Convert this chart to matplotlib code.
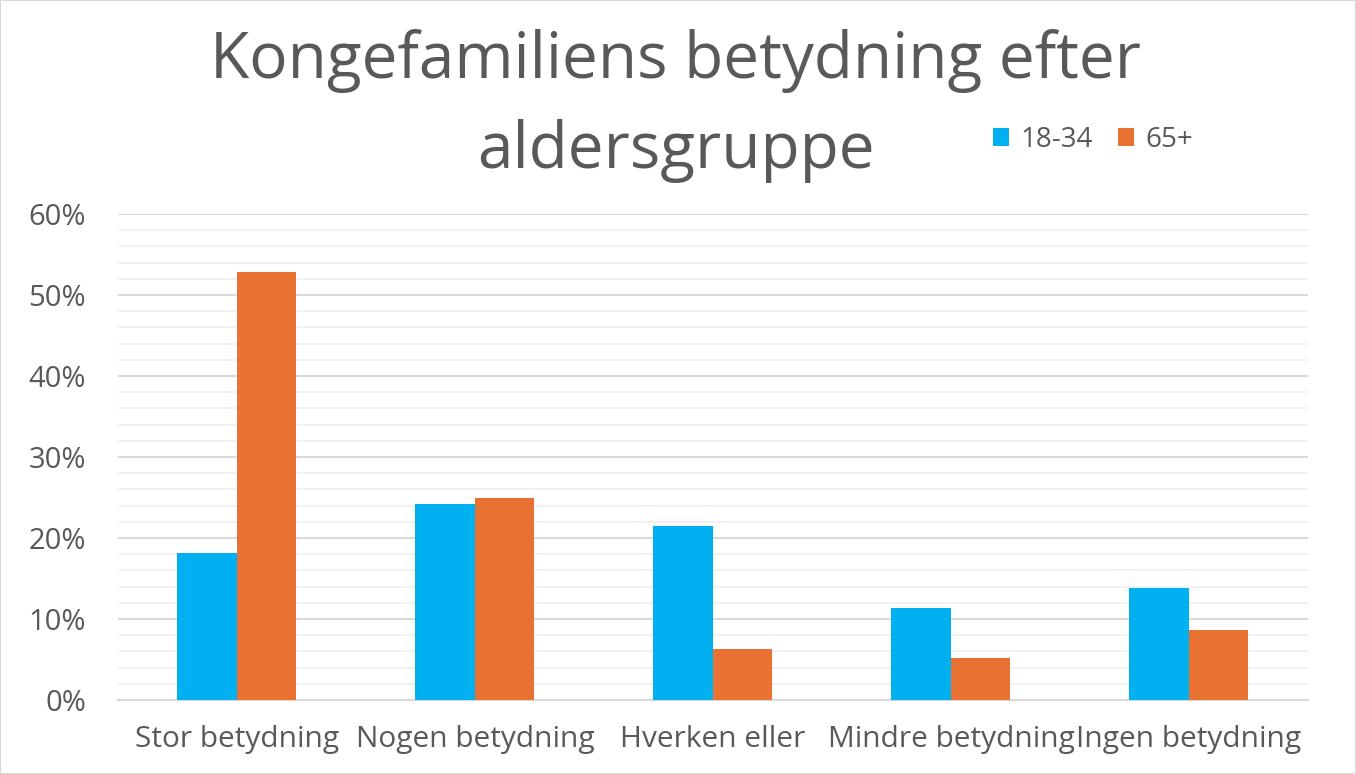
import matplotlib
matplotlib.use("Agg")
import matplotlib.pyplot as plt
import numpy as np
from matplotlib.ticker import MultipleLocator, PercentFormatter
from matplotlib.patches import Rectangle

categories = ["Stor betydning", "Nogen betydning", "Hverken eller", "Mindre betydning", "Ingen betydning"]
series_names = ["18-34", "65+"]
young = [18.1, 24.2, 21.5, 11.4, 13.8]
old = [52.8, 24.9, 6.3, 5.2, 8.6]
colors = ["#00B0F0", "#E97132"]
title_lines = ["Kongefamiliens betydning efter", "aldersgruppe"]

plt.rcParams['font.family'] = ['Open Sans', 'DejaVu Sans']
text_color = "#595959"

fig = plt.figure(figsize=(13.56, 7.74), dpi=100)
ax = fig.add_axes([0.087, 0.0956, 0.8776, 0.6279])

x = np.arange(len(categories))
w = 0.25
ax.bar(x - w/2, young, w, color=colors[0], label=series_names[0], zorder=3)
ax.bar(x + w/2, old, w, color=colors[1], label=series_names[1], zorder=3)

ax.set_xlim(-0.5, len(categories) - 0.5)
ax.set_ylim(0, 60)
ax.yaxis.set_major_locator(MultipleLocator(10))
ax.yaxis.set_minor_locator(MultipleLocator(2))
ax.yaxis.set_major_formatter(PercentFormatter(decimals=0))
ax.grid(axis='y', which='major', color='#d9d9d9', linewidth=1.5, zorder=0)
ax.grid(axis='y', which='minor', color='#efefef', linewidth=1.2, zorder=0)
for s in ['top', 'right', 'left']:
    ax.spines[s].set_visible(False)
ax.spines['bottom'].set_color('#d9d9d9')
ax.spines['bottom'].set_linewidth(1.5)
ax.tick_params(axis='both', which='both', length=0, labelcolor=text_color)
ax.tick_params(axis='y', labelsize=21, pad=23)
ax.tick_params(axis='x', labelsize=21.5, pad=18)
ax.set_xticks(x)
ax.set_xticklabels(categories)

fig.text(0.4985, 1 - 78 / 774, title_lines[0], ha='center', va='baseline',
         fontsize=46, color=text_color)
fig.text(0.4985, 1 - 168 / 774, title_lines[1], ha='center', va='baseline',
         fontsize=46, color=text_color)

leg = fig.legend(loc='center', bbox_to_anchor=(0.806, 0.819), ncol=2, frameon=False,
                 fontsize=20, handlelength=0.6, handleheight=0.6, handletextpad=0.4,
                 columnspacing=0.9, labelcolor=text_color)

fig.patches.append(Rectangle((0, 0), 1, 1, transform=fig.transFigure, fill=False,
                             edgecolor='#d9d9d9', linewidth=1.5))

fig.savefig("out.png", dpi=100, facecolor='white')
